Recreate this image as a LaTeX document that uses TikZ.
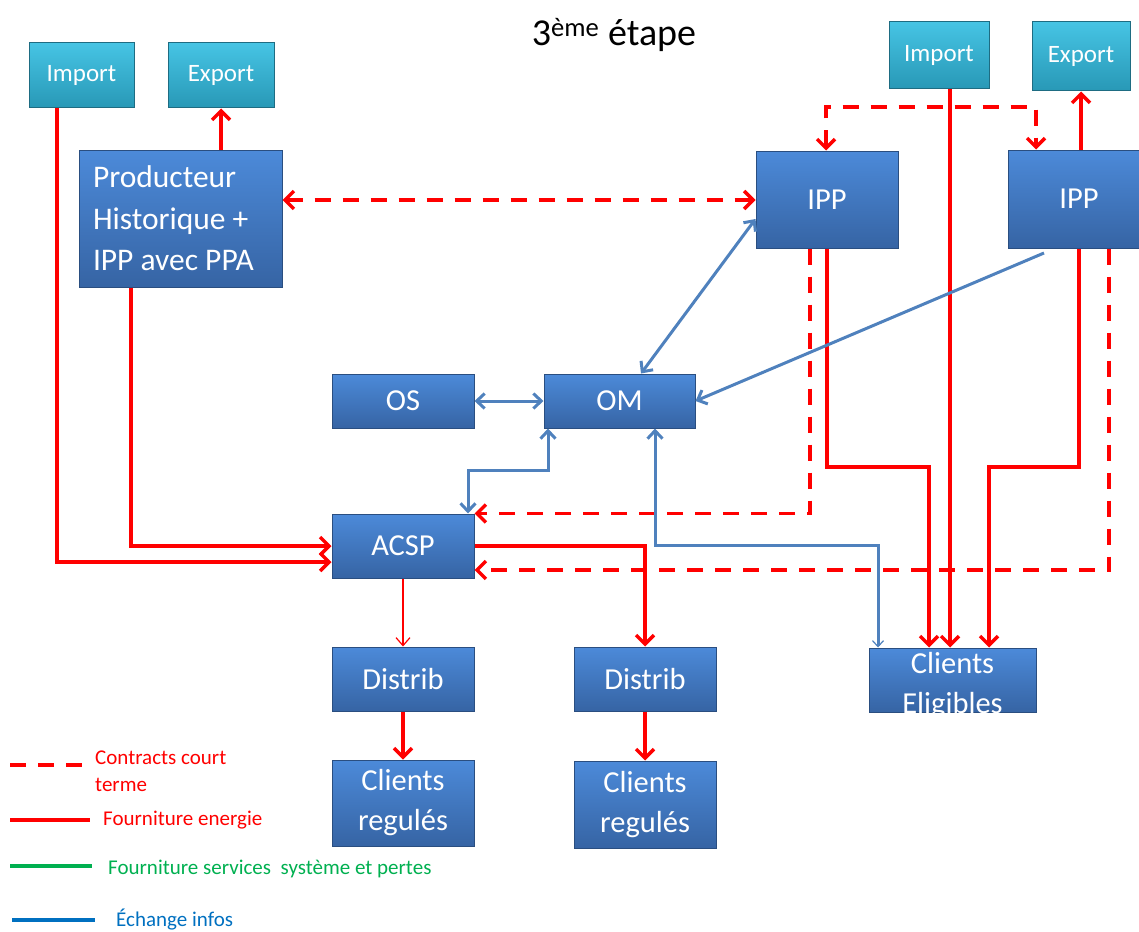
\documentclass[tikz,border=0pt]{standalone}
\usepackage{fontspec}
\setmainfont{Carlito}
\usetikzlibrary{arrows.meta}
\definecolor{boxtop}{RGB}{76,138,217}
\definecolor{boxbot}{RGB}{54,100,164}
\definecolor{boxedge}{RGB}{42,78,128}
\definecolor{tealtop}{RGB}{70,196,228}
\definecolor{tealbot}{RGB}{40,152,182}
\definecolor{tealedge}{RGB}{30,108,130}
\definecolor{infoblue}{RGB}{79,129,189}
\definecolor{legblue}{RGB}{0,112,192}
\definecolor{leggreen}{RGB}{0,176,80}
\tikzset{
  bbox/.style={draw=boxedge, line width=1pt, top color=boxtop, bottom color=boxbot,
    text=white, inner sep=0pt, align=center, font=\fontsize{30.5}{40}\selectfont},
  tbox/.style={draw=tealedge, line width=1pt, top color=tealtop, bottom color=tealbot,
    text=white, inner sep=0pt, align=center, font=\fontsize{25}{30}\selectfont},
  energy/.style={draw=red, line width=3.5pt, >={Straight Barb[length=9pt,width=18pt]}},
  contract/.style={energy, dash pattern=on 16pt off 12pt},
  thinenergy/.style={draw=red, line width=1.2pt, >={Straight Barb[length=8pt,width=14pt]}},
  info/.style={draw=infoblue, line width=3pt, >={Straight Barb[length=8pt,width=15pt]}},
  legtext/.style={anchor=west, inner sep=0pt, align=flush left, font=\fontsize{21}{27}\selectfont},
}
\begin{document}
\begin{tikzpicture}[x=1pt,y=-1pt]
\useasboundingbox (0,0) rectangle (1139,931);

% title
\node[font=\fontsize{38}{42}\selectfont, inner sep=0pt] (title) at (614,35) {3\textsuperscript{ème} étape};

% boxes
\node[tbox, minimum width=105pt, minimum height=65pt] (imp1) at (81.5,75.5) {Import};
\node[tbox, minimum width=106pt, minimum height=65pt] (exp1) at (221,75.5) {Export};
\node[tbox, minimum width=100pt, minimum height=67pt] (imp2) at (939,55.5) {Import};
\node[tbox, minimum width=98pt, minimum height=69pt] (exp2) at (1081,56.5) {Export};
\node[bbox, text width=175pt, inner xsep=14pt, minimum height=137pt, align=flush left,
      font=\fontsize{31.5}{41.5}\selectfont] (prod) at (180.5,218.5) {Producteur\\Historique +\\IPP avec PPA};
\node[bbox, minimum width=142pt, minimum height=97pt] (ipp1) at (827,199.5) {IPP};
\node[bbox, minimum width=142pt, minimum height=98pt] (ipp2) at (1079,199) {IPP};
\node[bbox, minimum width=142pt, minimum height=54pt] (os) at (403,401) {OS};
\node[bbox, minimum width=151pt, minimum height=54pt] (om) at (619.5,401) {OM};
\node[bbox, minimum width=142pt, minimum height=64pt] (acsp) at (403,546) {ACSP};
\node[bbox, minimum width=142pt, minimum height=64pt] (dist1) at (403,679) {Distrib};
\node[bbox, minimum width=142pt, minimum height=64pt] (dist2) at (645,679) {Distrib};
\node[bbox, minimum width=142pt, minimum height=86pt] (cr1) at (403,803) {Clients\\regulés};
\node[bbox, minimum width=142pt, minimum height=87pt] (cr2) at (645,804.5) {Clients\\regulés};
\node[bbox, minimum width=167pt, minimum height=64pt] (ce) at (952.5,680) {};
\begin{scope}
  \clip (ce.south west) rectangle (ce.north east);
  \node[text=white, inner sep=0pt, anchor=base, font=\fontsize{30.5}{40}\selectfont] (ce1) at (952.5,673) {Clients};
  \node[text=white, inner sep=0pt, anchor=base, font=\fontsize{30.5}{40}\selectfont] (ce2) at (952.5,713) {Eligibles};
\end{scope}

% energy supply (solid red)
\draw[energy,->] (57,0 |- imp1.south) |- (acsp.west |- 0,562);
\draw[energy,->] (131,0 |- prod.south) |- (acsp.west |- 0,546);
\draw[energy,->] (exp1.south |- prod.north) -- (exp1.south);
\draw[energy,->] (827,0 |- ipp1.south) |- (929,467) -- (929,0 |- ce.north);
\draw[energy,->] (950,0 |- imp2.south) -- (950,0 |- ce.north);
\draw[energy,->] (1079,0 |- ipp2.south) |- (989,467) -- (989,0 |- ce.north);
\draw[energy,->] (exp2.south |- ipp2.north) -- (exp2.south);
\draw[energy,->] (acsp.east) -| (dist2.north);
\draw[thinenergy,->] (acsp.south) -- (dist1.north);
\draw[energy,->] (dist1.south) -- (cr1.north);
\draw[energy,->] (dist2.south) -- (cr2.north);

% short-term contracts (dashed red)
\draw[contract,<->] (prod.east |- 0,200) -- (ipp1.west |- 0,200);
\draw[contract,<->] (826,0 |- ipp1.north) -- (826,107) -- (1036,107) -- (1036,0 |- ipp2.north);
\draw[contract,->] (810,0 |- ipp1.south) |- (acsp.north east);
\draw[contract,->] (1109,0 |- ipp2.south) |- (acsp.east |- 0,570);

% information exchange (blue)
\draw[info,<->] (os.east) -- (om.west);
\draw[info,<->] (641,0 |- om.north) -- (ipp1.west |- 0,219);
\coordinate (ipp2out) at (1044,253);
\draw[info,->] (ipp2out) -- (om.east);
\draw[info,<->] (548,0 |- om.south) |- (468,470) -- (468,0 |- acsp.north);
\draw[info, arrows={Straight Barb[length=8pt,width=15pt]-Straight Barb[length=6pt,width=11pt,line width=1.2pt]}]
  (655,0 |- om.south) |- (878,545) -- (878,0 |- ce.north);

% legend
\coordinate (l1a) at (10,765); \coordinate (l1b) at (82,765);
\draw[draw=red, line width=4pt, dash pattern=on 16pt off 12pt] (l1a) -- (l1b);
\node[legtext, text=red] (lt1) at (95,771) {Contracts court\\terme};
\coordinate (l2a) at (10,820); \coordinate (l2b) at (90,820);
\draw[draw=red, line width=4pt] (l2a) -- (l2b);
\node[legtext, text=red] (lt2) at (103,820) {Fourniture energie};
\coordinate (l3a) at (10,866); \coordinate (l3b) at (92,866);
\draw[draw=leggreen, line width=4.5pt] (l3a) -- (l3b);
\node[legtext, text=leggreen] (lt3) at (108,869) {Fourniture services\ \ système et pertes};
\coordinate (l4a) at (12,920); \coordinate (l4b) at (95,920);
\draw[draw=legblue, line width=4.5pt] (l4a) -- (l4b);
\node[legtext, text=legblue] (lt4) at (116,920) {Échange infos};
\end{tikzpicture}
\end{document}
